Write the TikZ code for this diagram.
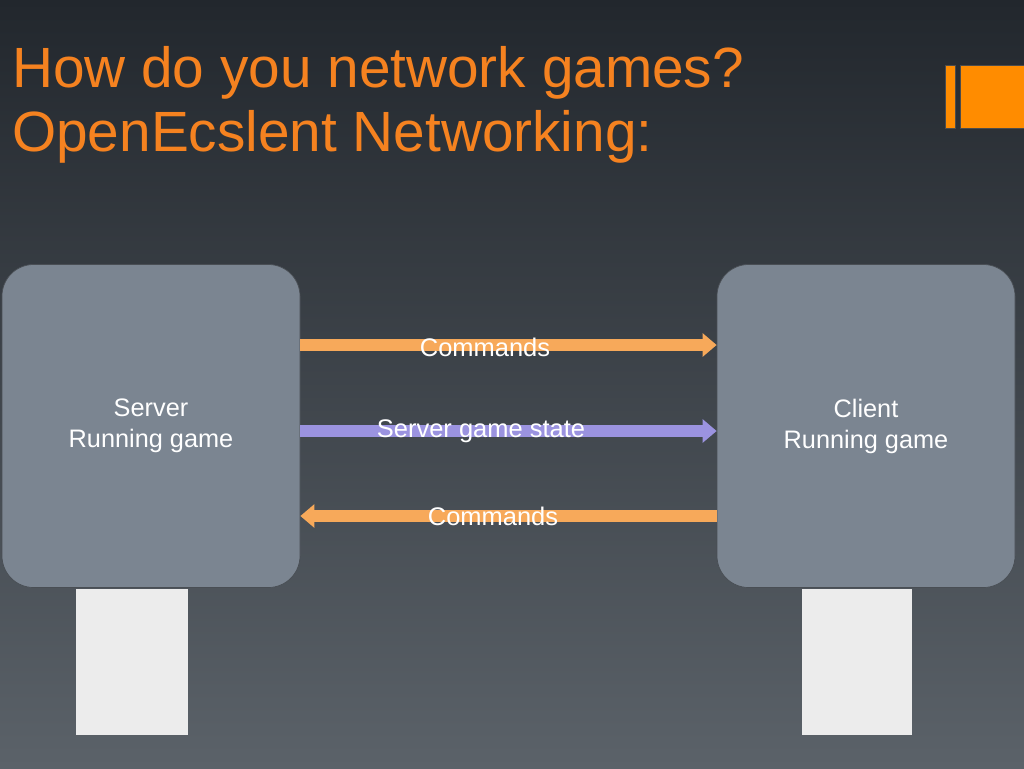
\documentclass[tikz,border=0pt]{standalone}
\usepackage{fontspec}
\setmainfont{Liberation Sans}
\usetikzlibrary{calc,arrows.meta}
\definecolor{bgtop}{HTML}{22272D}
\definecolor{bgbot}{HTML}{5B6269}
\definecolor{boxgray}{HTML}{7B8591}
\definecolor{titleorange}{HTML}{F58220}
\definecolor{logoorange}{HTML}{FF8C00}
\definecolor{cmdorange}{HTML}{F7A95A}
\definecolor{statepurple}{HTML}{9B93E0}
\begin{document}
\begin{tikzpicture}[x=0.02cm,y=-0.02cm]
\tikzstyle{machine}=[draw=bgbot!80!black,fill=boxgray,rounded corners=18pt,minimum width=298*0.02cm,minimum height=323*0.02cm,align=center,text=white,font=\fontsize{14.4}{17.6}\selectfont]
\tikzstyle{link}=[line width=6.8pt,-{Triangle[width=13pt,length=8pt]}]
\tikzstyle{linklabel}=[text=white,font=\fontsize{14.5}{16}\selectfont,inner sep=0pt]
\tikzstyle{photo}=[fill=gray!15,draw=none]
\useasboundingbox (0,0) rectangle (1024,768);
\shade[top color=bgtop,bottom color=bgbot] (0,0) rectangle (1024,768);
% title
\node[anchor=west,text=titleorange,font=\fontsize{32.3}{36.3}\selectfont,align=left] (title) at (6,105) {How do you network games?\\OpenEcslent Networking:};
% logo bars
\fill[logoorange,draw=black!70] (945,65) rectangle (955,128);
\fill[logoorange,draw=black!70] (960,65) rectangle (1026,128);
% machines
\node[machine] (server) at (151,426) {Server\\Running game};
\node[machine] (client) at (866,426) {Client\\Running game};
% players
\node[photo,minimum width=112*0.02cm,minimum height=146*0.02cm] (boy) at (132,662) {};
\node[photo,minimum width=110*0.02cm,minimum height=146*0.02cm] (girl) at (857,662) {};
% links
\draw[link,cmdorange] (server.east |- 0,345) -- (client.west |- 0,345);
\draw[link,statepurple] (server.east |- 0,431) -- (client.west |- 0,431);
\draw[link,cmdorange] (client.west |- 0,516) -- (server.east |- 0,516);
\node[linklabel] (cmd1) at (485,347) {Commands};
\node[linklabel] (state) at (481,431) {Server game state};
\node[linklabel] (cmd2) at (493,516) {Commands};
\end{tikzpicture}
\end{document}
